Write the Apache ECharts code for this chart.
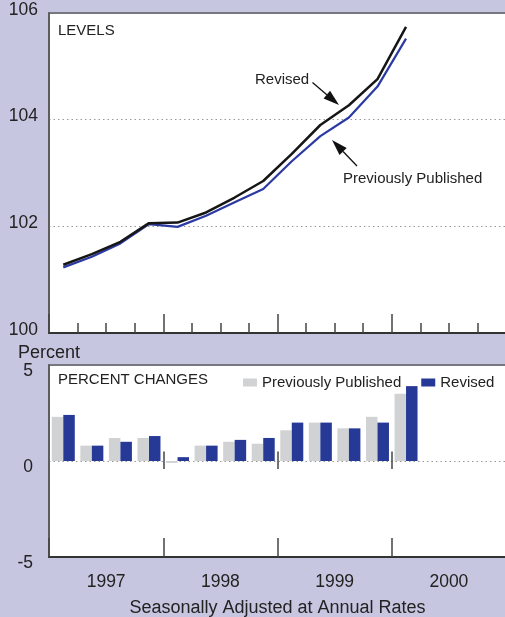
<!DOCTYPE html>
<html>
<head>
<meta charset="utf-8">
<script src="https://cdn.jsdelivr.net/npm/echarts@6/dist/echarts.min.js"></script>
<style>
html,body{margin:0;padding:0;background:#c6c6e0;}
#c{width:505px;height:617px;}
</style>
</head>
<body>
<div id="c"></div>
<script>
// ---- data ----
const quarters = ['1997Q1','1997Q2','1997Q3','1997Q4','1998Q1','1998Q2','1998Q3','1998Q4','1999Q1','1999Q2','1999Q3','1999Q4','2000Q1'];
const years = ['1997','1998','1999','2000'];
const revisedLevel = [101.28,101.48,101.71,102.06,102.07,102.26,102.54,102.85,103.36,103.90,104.27,104.76,105.74];
const prevLevel    = [101.23,101.43,101.68,102.04,101.99,102.20,102.45,102.70,103.22,103.69,104.04,104.62,105.52];
const prevPct      = [2.3,0.8,1.2,1.2,-0.1,0.8,1.0,0.9,1.6,2.0,1.7,2.3,3.5];
const revisedPct   = [2.4,0.8,1.0,1.3,0.2,0.8,1.1,1.2,2.0,2.0,1.7,2.0,3.9];

const FONT = '"Liberation Sans", Arial, sans-serif';
const TXT = '#222';
// quarter i sits in the middle of its slot on a 0..16 quarter scale
const pairs = arr => arr.map((v, i) => [i + 0.5, v]);
// interior year boundaries on the quarter scale
const yearBounds = years.slice(1).map((y, i) => (i + 1) * 4);

function arrow(tail, tip, L, w) {
  const dx = tip[0] - tail[0], dy = tip[1] - tail[1];
  const len = Math.sqrt(dx*dx + dy*dy);
  const ux = dx/len, uy = dy/len;
  const bx = tip[0] - ux*L, by = tip[1] - uy*L;
  const nx = -uy, ny = ux;
  return [
    {type:'line', shape:{x1:tail[0], y1:tail[1], x2:bx, y2:by}, style:{stroke:'#111', lineWidth:1.3}},
    {type:'polygon', shape:{points:[[tip[0],tip[1]],[bx+nx*w,by+ny*w],[bx-nx*w,by-ny*w]]}, style:{fill:'#111'}}
  ];
}

const tickStyle = {color:'#444', width:1.5};

const option = {
  backgroundColor: '#c6c6e0',
  animation: false,
  textStyle: {fontFamily: FONT},
  title: [
    {text:'LEVELS', left:58, top:22, padding:0, textStyle:{fontSize:15, fontWeight:'normal', color:TXT, fontFamily:FONT, lineHeight:18}},
    {text:'PERCENT CHANGES', left:58, top:371, padding:0, textStyle:{fontSize:15, fontWeight:'normal', color:TXT, fontFamily:FONT, lineHeight:18}}
  ],
  legend: {
    left:243, top:375, padding:0, itemWidth:14, itemHeight:8, itemGap:20, icon:'rect',
    data:['Previously Published','Revised'],
    textStyle:{fontSize:15, color:TXT, fontFamily:FONT}
  },
  grid: [
    {left:49, top:13, width:457, height:320, show:true, backgroundColor:'#fff', borderColor:'#77777f', borderWidth:2, containLabel:false, outerBoundsMode:'none'},
    {left:49, top:365, width:457, height:192, show:true, backgroundColor:'#fff', borderColor:'#77777f', borderWidth:2, containLabel:false, outerBoundsMode:'none'}
  ],
  xAxis: [
    {gridIndex:0, type:'value', min:0, max:16, interval:4, position:'bottom',
     axisLine:{show:true, onZero:false, lineStyle:{color:'#333', width:2}},
     axisTick:{show:true, inside:true, length:19, lineStyle:tickStyle},
     minorTick:{show:true, splitNumber:4, length:10, lineStyle:tickStyle},
     axisLabel:{show:false}, splitLine:{show:false}, minorSplitLine:{show:false}},
    {gridIndex:1, type:'value', min:0, max:16, interval:4, position:'bottom',
     axisLine:{show:true, onZero:false, lineStyle:{color:'#333', width:2}},
     axisTick:{show:true, inside:true, length:19, lineStyle:tickStyle},
     axisLabel:{show:true, customValues:[2,6,10,14], formatter:v => years[Math.round((v-2)/4)], margin:16, fontSize:17.5, color:TXT, fontFamily:FONT},
     name:'Seasonally Adjusted at Annual Rates', nameLocation:'middle', nameGap:42,
     nameTextStyle:{fontSize:18, color:TXT, fontFamily:FONT},
     splitLine:{show:false}}
  ],
  yAxis: [
    {gridIndex:0, type:'value', min:100, max:106, interval:2,
     axisLine:{show:true, lineStyle:{color:'#555', width:1.5}}, axisTick:{show:false},
     axisLabel:{fontSize:17.5, color:TXT, fontFamily:FONT, margin:11, verticalAlign:'bottom', lineHeight:6},
     splitLine:{show:true, showMinLine:false, showMaxLine:false, lineStyle:{type:[1.5,3], color:'#999', width:1}}},
    {gridIndex:1, type:'value', min:-5, max:5, interval:5,
     name:'Percent', nameLocation:'end', nameGap:-1,
     nameTextStyle:{fontSize:18, color:TXT, fontFamily:FONT},
     axisLine:{show:true, lineStyle:{color:'#555', width:1.5}}, axisTick:{show:false},
     axisLabel:{fontSize:17.5, color:TXT, fontFamily:FONT, margin:16, verticalAlign:'top', lineHeight:12},
     splitLine:{show:true, showMinLine:false, showMaxLine:false, lineStyle:{type:[1.5,3], color:'#999', width:1}}}
  ],
  series: [
    {name:'Previously Published level', type:'line', xAxisIndex:0, yAxisIndex:0, data:pairs(prevLevel),
     symbol:'none', lineStyle:{color:'#2b3aa3', width:2.2}, z:2},
    {name:'Revised level', type:'line', xAxisIndex:0, yAxisIndex:0, data:pairs(revisedLevel),
     symbol:'none', lineStyle:{color:'#161616', width:2.5}, z:3},
    {name:'Previously Published', type:'bar', xAxisIndex:1, yAxisIndex:1, data:pairs(prevPct),
     barWidth:11.5, barGap:'0%', itemStyle:{color:'#d1d2d4'}},
    {name:'Revised', type:'bar', xAxisIndex:1, yAxisIndex:1, data:pairs(revisedPct),
     barWidth:11.5, barGap:'0%', itemStyle:{color:'#263996'}},
    {name:'year ticks', type:'line', xAxisIndex:1, yAxisIndex:1, data:[], symbol:'none', silent:true,
     markLine:{silent:true, symbol:['none','none'], label:{show:false}, animation:false,
       lineStyle:{color:'#444', width:1.5, type:'solid'},
       data: yearBounds.map(b => [{coord:[b,-0.42]},{coord:[b,0.5]}])}}
  ],
  graphic: [
    {type:'text', left:255, top:72, style:{text:'Revised', fontSize:15, fontFamily:FONT, fill:TXT}},
    {type:'text', left:343, top:171, style:{text:'Previously Published', fontSize:15, fontFamily:FONT, fill:TXT}}
  ].concat(arrow([312.5,82.5],[339,105],16,5)).concat(arrow([357,166],[332,140],16,5))
};

const chart = echarts.init(document.getElementById('c'), null, {renderer:'canvas'});
chart.setOption(option);
</script>
</body>
</html>
